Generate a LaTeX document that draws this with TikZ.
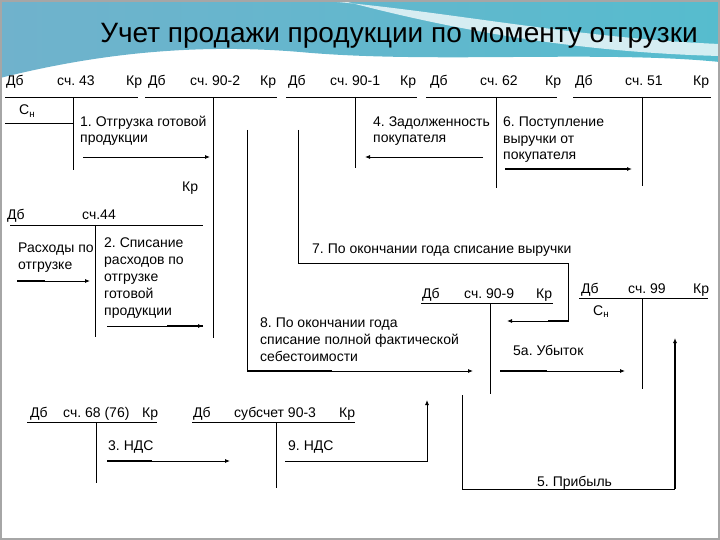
\documentclass[tikz,border=0pt]{standalone}
\usepackage{fontspec}
\setmainfont{Liberation Sans}
\usetikzlibrary{arrows.meta}
\frenchspacing

\definecolor{bandleft}{RGB}{112,178,204}
\definecolor{bandmid}{RGB}{200,228,238}
\definecolor{bandright}{RGB}{86,188,206}

\begin{document}
\begin{tikzpicture}[
  x=1pt, y=-1pt,
  lbl/.style={anchor=base west, inner sep=0pt, align=left, font=\fontsize{14}{16.8}\selectfont},
  tline/.style={line width=0.8pt},
  arrow/.style={-{Latex[length=5pt, width=4pt]}, line width=0.8pt},
  boldline/.style={line width=2pt},
  boldarrow/.style={arrow, line width=2pt}
]
  \useasboundingbox (0,0) rectangle (720,540);

  % background band
  \shade[left color=bandleft, middle color=bandmid, right color=bandright]
    (0,0) -- (720,0) -- (720,62) .. controls (600,50) and (430,64) .. (300,52)
    .. controls (180,42) and (80,58) .. (0,78) -- cycle;
  \fill[white, opacity=0.75] (312,0) .. controls (430,8) and (570,38) .. (720,44)
    -- (720,56) .. controls (560,52) and (430,24) .. (340,0) -- cycle;
  \draw[gray!70, line width=2pt] (1,1) rectangle (719,539);

  \node[anchor=base, inner sep=0pt, font=\fontsize{28}{30}\selectfont] (title) at (399,43)
    {Учет продажи продукции по моменту отгрузки};

  % accounts, top row
  \node[lbl] (d43) at (6,86) {Дб};
  \node[lbl] (n43) at (57,86) {сч. 43};
  \node[lbl] (k43) at (126,86) {Кр};
  \node[lbl] (d902) at (148,86) {Дб};
  \node[lbl] (n902) at (190,86) {сч. 90-2};
  \node[lbl] (k902) at (260,86) {Кр};
  \node[lbl] (d901) at (288,86) {Дб};
  \node[lbl] (n901) at (330,86) {сч. 90-1};
  \node[lbl] (k901) at (400,86) {Кр};
  \node[lbl] (d62) at (430,86) {Дб};
  \node[lbl] (n62) at (480,86) {сч. 62};
  \node[lbl] (k62) at (545,86) {Кр};
  \node[lbl] (d51) at (575,86) {Дб};
  \node[lbl] (n51) at (625,86) {сч. 51};
  \node[lbl] (k51) at (693,86) {Кр};
  \node[lbl] (s43) at (19,115) {С\textsubscript{н}};

  \draw[tline] (5,97) -- (138,97) (73,97) -- (73,170) (5,123) -- (73,123);
  \draw[tline] (145,97) -- (277,97) (213,97) -- (213,338);
  \draw[tline] (286,97) -- (417,97) (355,97) -- (355,168);
  \draw[tline] (426,97) -- (557,97) (496,97) -- (496,188);
  \draw[tline] (573,97) -- (711,97) (642,97) -- (642,186);

  % account 44
  \node[lbl] (d44) at (7,220) {Дб};
  \node[lbl] (n44) at (82,220) {сч.44};
  \node[lbl] (k44) at (182,192) {Кр};
  \draw[tline] (10,225) -- (203,225) (95,225) -- (95,337);

  % 90-9 and 99
  \node[lbl] (d909) at (422,298) {Дб};
  \node[lbl] (n909) at (464,298) {сч. 90-9};
  \node[lbl] (k909) at (536,298) {Кр};
  \draw[tline] (421,303) -- (553,303) (490,303) -- (490,394);
  \node[lbl] (d99) at (581,293) {Дб};
  \node[lbl] (n99) at (628,293) {сч. 99};
  \node[lbl] (k99) at (693,293) {Кр};
  \node[lbl] (s99) at (593,315) {С\textsubscript{н}};
  \draw[tline] (579,298) -- (708,298) (642,298) -- (642,389);

  % bottom row
  \node[lbl] (d68) at (30,417) {Дб};
  \node[lbl] (n68) at (63,417) {сч. 68 (76)};
  \node[lbl] (k68) at (142,417) {Кр};
  \draw[tline] (27,422) -- (157,422) (96,422) -- (96,483);
  \node[lbl] (d903) at (193,417) {Дб};
  \node[lbl] (n903) at (234,417) {субсчет 90-3};
  \node[lbl] (k903) at (339,417) {Кр};
  \draw[tline] (192,422) -- (355,422) (276,422) -- (276,488);

  % entries (multi-line texts sit on their last line)
  \node[lbl] (op1) at (80,143) {1. Отгрузка готовой\\продукции};
  \node[lbl] (op4) at (373,143) {4. Задолженность\\покупателя};
  \node[lbl] (op6) at (503,160) {6. Поступление\\выручки от\\покупателя};
  \node[lbl] (exp44) at (18,269) {Расходы по\\отгрузке};
  \node[lbl] (op2) at (104,315) {2. Списание\\расходов по\\отгрузке\\готовой\\продукции};
  \node[lbl] (op7) at (312,253) {7. По окончании года списание выручки};
  \node[lbl] (op8) at (260,361) {8. По окончании года\\списание полной фактической\\себестоимости};
  \node[lbl] (op5a) at (513,355) {5а. Убыток};
  \node[lbl] (op5) at (537,486) {5. Прибыль};
  \node[lbl] (op3) at (108,450) {3. НДС};
  \node[lbl] (op9) at (288,450) {9. НДС};

  \coordinate (a1s) at (83,157);   \coordinate (a1e) at (210,157);
  \coordinate (a4s) at (483,157);  \coordinate (a4e) at (365,157);
  \coordinate (a6s) at (505,169);  \coordinate (a6e) at (632,169);
  \coordinate (aexs) at (17,281);  \coordinate (aexe) at (90,281);
  \coordinate (a2s) at (107,326);  \coordinate (a2e) at (203,326);
  \coordinate (a7s) at (298,130);  \coordinate (a7c) at (568,263);  \coordinate (a7e) at (507,321);
  \coordinate (a8s) at (247,130);  \coordinate (a8e) at (473,371);
  \coordinate (a5as) at (500,371); \coordinate (a5ae) at (625,371);
  \coordinate (a5s) at (462,395);  \coordinate (a5c) at (675,489);  \coordinate (a5e) at (675,338);
  \coordinate (a3s) at (107,461);  \coordinate (a3e) at (230,461);
  \coordinate (a9s) at (285,461);  \coordinate (a9e) at (427,400);

  \draw[arrow] (a1s) -- (a1e);
  \draw[arrow] (a4s) -- (a4e);
  \draw[boldarrow] (a6s) -- (a6e);
  \draw[arrow] (aexs) -- (aexe);
  \draw[boldline] (aexs) -- ++(28,0);
  \draw[arrow] (a2s) -- (a2e);
  \draw[boldline] (a2e) -- ++(-36,0);
  \draw[arrow] (a7s) |- (a7c) |- (a7e);
  \draw[boldline] (a7c |- a7e) -- ++(-20,0);
  \draw[arrow] (a8s) |- (a8e);
  \draw[boldline] (a8s |- a8e) -- ++(85,0);
  \draw[arrow] (a5as) -- (a5ae);
  \draw[boldline] (a5as) -- ++(47,0);
  \draw[tline] (a5s) |- (a5c);
  \draw[boldarrow] (a5c) -- (a5e);
  \draw[arrow] (a3s) -- (a3e);
  \draw[boldline] (a3s) -- ++(45,0);
  \draw[arrow] (a9s) -| (a9e);
\end{tikzpicture}
\end{document}
